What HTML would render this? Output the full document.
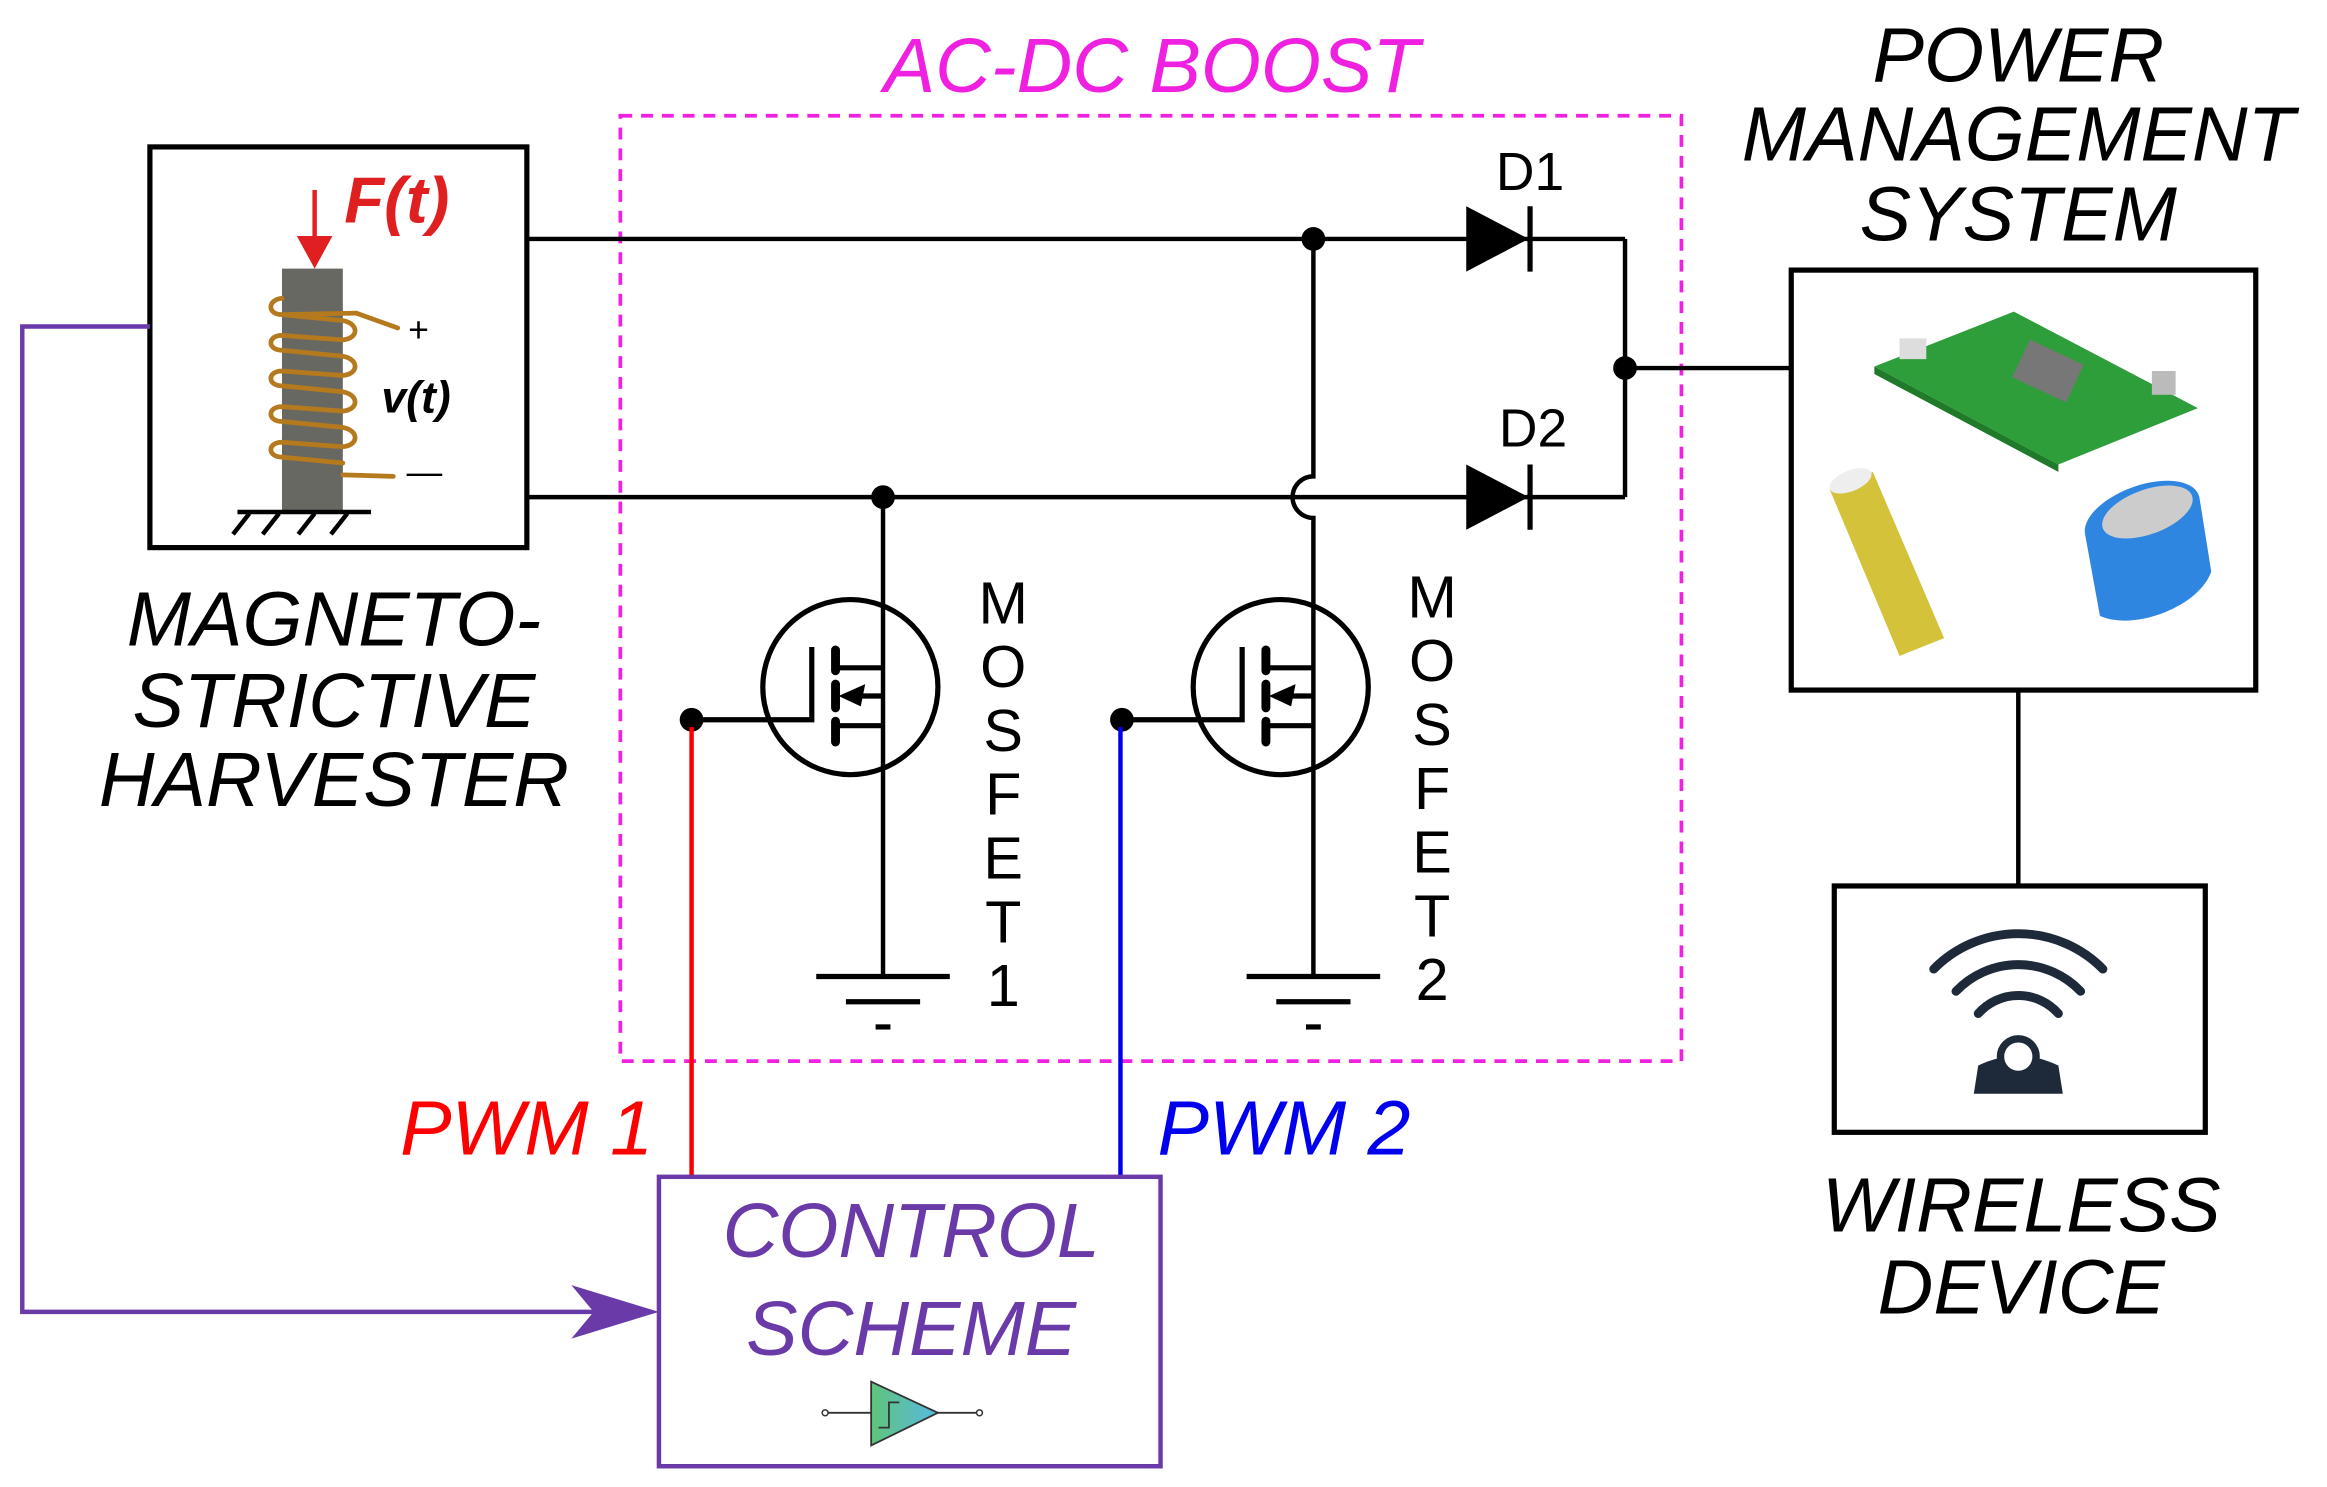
<!DOCTYPE html>
<html><head><meta charset="utf-8"><style>
html,body{margin:0;padding:0;background:#fff;}
svg{display:block}
text{font-family:"Liberation Sans",sans-serif}
</style></head><body>
<svg width="2327" height="1487" viewBox="0 0 1568 1002" xmlns="http://www.w3.org/2000/svg">
<defs>
<linearGradient id="tri" x1="0" x2="1"><stop offset="0" stop-color="#5fc47a"/><stop offset="1" stop-color="#58b9e0"/></linearGradient>
</defs>
<rect x="0" y="0" width="1568" height="1002" fill="#fff"/>
<!-- dashed boost box -->
<rect x="418" y="78" width="715" height="637" fill="none" stroke="#f020e0" stroke-width="2.5" stroke-dasharray="8,6"/>
<text x="776" y="62" font-size="52" font-style="italic" fill="#f020e0" text-anchor="middle">AC-DC BOOST</text>

<!-- harvester box -->
<rect x="101" y="99" width="254" height="270" fill="none" stroke="#000" stroke-width="3.5"/>
<rect x="190" y="181" width="41" height="163" fill="#686862"/>
<g stroke="#b5791e" stroke-width="3.2" fill="none" stroke-linecap="round">
<path d="M190 201 C180 202 180 212 190 212 L240 211"/>
<path d="M240 211 L268 221"/>
<path d="M190 212 L231 216 C242 218 242 228 231 229 L190 226 C180 226 180 236 190 236 L231 240 C242 242 242 252 231 253 L190 250 C180 250 180 260 190 260 L231 264 C242 266 242 276 231 277 L190 274 C180 274 180 284 190 284 L231 288 C242 290 242 300 231 301 L190 298 C180 298 180 308 190 308 L231 312"/>
<path d="M231 320 L265 321"/>
</g>
<line x1="160" y1="345" x2="250" y2="345" stroke="#000" stroke-width="3"/>
<g stroke="#000" stroke-width="3"><line x1="168" y1="346" x2="157" y2="360"/><line x1="188" y1="346" x2="177" y2="360"/><line x1="212" y1="346" x2="201" y2="360"/><line x1="234" y1="346" x2="223" y2="360"/></g>
<line x1="212" y1="128" x2="212" y2="160" stroke="#e02020" stroke-width="3"/>
<polygon points="200,159 224,159 212,181" fill="#e02020"/>
<text x="232" y="150" font-size="44" font-weight="bold" font-style="italic" fill="#e02020">F(t)</text>
<text x="257" y="278" font-size="30" font-weight="bold" font-style="italic" fill="#000">v(t)</text>
<text x="275" y="230" font-size="24" fill="#000">+</text>
<text x="274" y="326" font-size="24" fill="#000">—</text>
<g font-size="52" font-style="italic" text-anchor="middle" fill="#000">
<text x="225" y="435">MAGNETO-</text><text x="225" y="490">STRICTIVE</text><text x="225" y="543">HARVESTER</text>
</g>

<!-- wires -->
<g stroke="#000" stroke-width="3" fill="none">
<line x1="355" y1="161" x2="1095" y2="161"/>
<line x1="355" y1="335" x2="1095" y2="335"/>
<line x1="1095" y1="161" x2="1095" y2="335"/>
<line x1="1095" y1="248" x2="1207" y2="248"/>
<path d="M885 161 L885 321 A14 14 0 0 0 885 349 L885 658"/>
<line x1="595" y1="335" x2="595" y2="658"/>
</g>
<g fill="#000"><circle cx="885" cy="161" r="8"/><circle cx="595" cy="335" r="8"/><circle cx="1095" cy="248" r="8"/></g>
<!-- diodes -->
<polygon points="988,139 988,183 1030,161" fill="#000"/><line x1="1031" y1="139" x2="1031" y2="183" stroke="#000" stroke-width="3.5"/>
<polygon points="988,313 988,357 1030,335" fill="#000"/><line x1="1031" y1="313" x2="1031" y2="357" stroke="#000" stroke-width="3.5"/>
<text x="1008" y="128" font-size="36">D1</text>
<text x="1010" y="301" font-size="36">D2</text>

<!-- MOSFETs -->
<g id="m1">
<g stroke="#000" stroke-width="3.5" fill="none">
<circle cx="573" cy="463" r="59"/>
<polyline points="466,485 547,485 547,436"/>
<line x1="563" y1="450" x2="595" y2="450"/>
<line x1="563" y1="489" x2="595" y2="489"/>
<line x1="570" y1="469" x2="595" y2="469"/>
<line x1="550" y1="658" x2="640" y2="658"/>
<line x1="570" y1="675" x2="620" y2="675"/>
<line x1="590" y1="692" x2="600" y2="692"/>
</g>
<g stroke="#000" stroke-width="6" stroke-linecap="round">
<line x1="563" y1="438" x2="563" y2="452"/><line x1="563" y1="461" x2="563" y2="477"/><line x1="563" y1="486" x2="563" y2="500"/>
</g>
<polygon points="565,469 583,461 580,476" fill="#000"/>
<circle cx="466" cy="485" r="8" fill="#000"/>
</g>
<use href="#m1" transform="translate(290,0)"/>
<g font-size="40" text-anchor="middle">
<text x="676" y="420">M</text><text x="676" y="463">O</text><text x="676" y="506">S</text><text x="676" y="549">F</text><text x="676" y="592">E</text><text x="676" y="635">T</text><text x="676" y="678">1</text>
<text x="965" y="416">M</text><text x="965" y="459">O</text><text x="965" y="502">S</text><text x="965" y="545">F</text><text x="965" y="588">E</text><text x="965" y="631">T</text><text x="965" y="674">2</text>
</g>

<!-- PWM lines -->
<line x1="466" y1="490" x2="466" y2="793" stroke="#ff0000" stroke-width="3"/>
<line x1="755" y1="490" x2="755" y2="793" stroke="#0000ee" stroke-width="3"/>
<text x="440" y="778" font-size="52" font-style="italic" fill="#ff0000" text-anchor="end">PWM 1</text>
<text x="780" y="778" font-size="52" font-style="italic" fill="#0000ee">PWM 2</text>

<!-- control -->
<rect x="444" y="793" width="338" height="195" fill="none" stroke="#6a3aa8" stroke-width="3"/>
<g font-size="52" font-style="italic" fill="#6a3aa8" text-anchor="middle"><text x="614" y="847">CONTROL</text><text x="614" y="913">SCHEME</text></g>
<line x1="556" y1="952" x2="660" y2="952" stroke="#333" stroke-width="1.2"/>
<polygon points="587,931 587,974 632,952" fill="url(#tri)" stroke="#333" stroke-width="1.2"/>
<polyline points="592,962 599,962 599,945 606,945" fill="none" stroke="#333" stroke-width="1.2"/>
<circle cx="556" cy="952" r="2" fill="#fff" stroke="#333"/><circle cx="660" cy="952" r="2" fill="#fff" stroke="#333"/>
<polyline points="101,220 15,220 15,884 430,884" fill="none" stroke="#6a3aa8" stroke-width="3"/>
<path d="M385 866 L444 884 L385 902 L400 884 Z" fill="#6a3aa8"/>

<!-- PMS -->
<g font-size="52" font-style="italic" text-anchor="middle"><text x="1360" y="55">POWER</text><text x="1360" y="108">MANAGEMENT</text><text x="1360" y="162">SYSTEM</text></g>
<rect x="1207" y="182" width="313" height="283" fill="none" stroke="#000" stroke-width="3.5"/>
<polygon points="1263,247 1357,210 1481,275 1387,313" fill="#2e9e3a"/>
<polygon points="1263,247 1387,313 1387,318 1263,252" fill="#1f7a2a"/>
<rect x="1360" y="236" width="40" height="28" fill="#777" transform="rotate(25 1380 250)"/>
<rect x="1280" y="228" width="18" height="14" fill="#ddd"/>
<rect x="1450" y="250" width="16" height="16" fill="#bbb"/>
<polygon points="1233,330 1262,318 1310,430 1280,442" fill="#d4c23a"/>
<ellipse cx="1247" cy="324" rx="15" ry="7" fill="#eee" transform="rotate(-22 1247 324)"/>
<path d="M1405 360 A40 20 -20 0 1 1482 335 L1490 385 A45 25 -20 0 1 1415 415 Z" fill="#2f86e0"/>
<ellipse cx="1447" cy="345" rx="32" ry="15" fill="#ccc" transform="rotate(-20 1447 345)"/>
<line x1="1360" y1="465" x2="1360" y2="597" stroke="#000" stroke-width="3"/>

<!-- wireless -->
<rect x="1236" y="597" width="250" height="166" fill="none" stroke="#000" stroke-width="3.5"/>
<g fill="none" stroke="#1e2a3a" stroke-width="6" stroke-linecap="round">
<path d="M1303 653 A80 80 0 0 1 1417 653"/>
<path d="M1318 668 A58 58 0 0 1 1402 668"/>
<path d="M1333 683 A36 36 0 0 1 1387 683"/>
</g>
<path d="M1330 737 L1333 718 Q1360 705 1387 718 L1390 737 Z" fill="#1e2a3a"/>
<circle cx="1360" cy="712" r="12" fill="#fff" stroke="#1e2a3a" stroke-width="5"/>
<g font-size="52" font-style="italic" text-anchor="middle"><text x="1362" y="830">WIRELESS</text><text x="1362" y="885">DEVICE</text></g>
</svg>
</body></html>
